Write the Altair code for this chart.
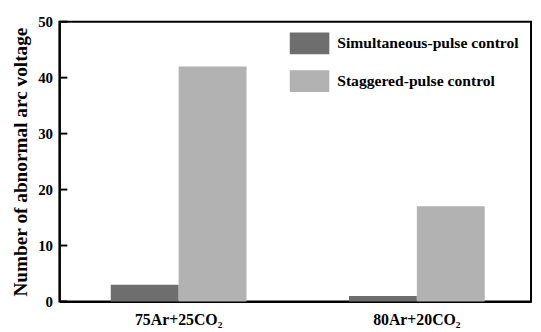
import altair as alt
import pandas as pd

categories = ["75Ar+25CO₂", "80Ar+20CO₂"]
series = ["Simultaneous-pulse control", "Staggered-pulse control"]
simultaneous = [3, 1]
staggered = [42, 17]
y_ticks = [0, 10, 20, 30, 40, 50]

rows = []
for c, a, b in zip(categories, simultaneous, staggered):
    rows.append({"cat": c, "series": series[0], "value": a})
    rows.append({"cat": c, "series": series[1], "value": b})
df = pd.DataFrame(rows)
ticks_df = pd.DataFrame({"t": y_ticks})

FONT = "Liberation Serif"

bars = alt.Chart(df).mark_bar().encode(
    x=alt.X("cat:N", sort=categories,
            scale=alt.Scale(paddingInner=0.43, paddingOuter=0.205, align=0.526),
            axis=alt.Axis(title=None, labelAngle=0, ticks=False,
                          domain=True, domainColor="black", domainWidth=2,
                          labelFontSize=16, labelFontWeight="bold", labelFont=FONT,
                          labelColor="black", labelPadding=10)),
    xOffset=alt.XOffset("series:N", sort=series),
    y=alt.Y("value:Q", scale=alt.Scale(domain=[0, 50], nice=False),
            axis=alt.Axis(title="Number of abnormal arc voltage", values=y_ticks,
                          ticks=False, domain=True, domainColor="black", domainWidth=2,
                          grid=False,
                          labelFontSize=15, labelFontWeight="bold", labelFont=FONT,
                          labelColor="black", labelPadding=7,
                          titleFontSize=19.5, titleFontWeight="bold", titleFont=FONT,
                          titleColor="black", titlePadding=7)),
    color=alt.Color("series:N", sort=series,
                    scale=alt.Scale(domain=series, range=["#6e6e6e", "#b2b2b2"]),
                    legend=alt.Legend(title=None, orient="none", legendX=233, legendY=2,
                                      symbolType="M-1,-0.55L1,-0.55L1,0.55L-1,0.55Z",
                                      symbolSize=1600, symbolStrokeWidth=0,
                                      labelFont=FONT, labelFontSize=15.8,
                                      labelFontWeight="bold", labelColor="black",
                                      labelLimit=400,
                                      labelOffset=8, rowPadding=7, padding=0)),
)

tick_marks = alt.Chart(ticks_df).mark_rule(color="black", strokeWidth=2).encode(
    y=alt.Y("t:Q"),
    x=alt.value(0),
    x2=alt.value(8),
)

chart = alt.layer(bars, tick_marks).properties(
    width=477, height=283,
    autosize=alt.AutoSizeParams(type="none"),
    padding={"left": 52, "top": 12, "right": 2, "bottom": 28},
).configure_view(stroke="black", strokeWidth=2, strokeOpacity=1)

chart.save("out.html", embed_options={"renderer": "svg", "actions": False})
